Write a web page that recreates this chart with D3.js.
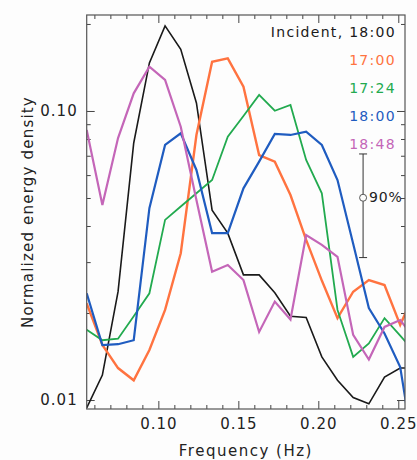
<!DOCTYPE html>
<html>
<head>
<meta charset="utf-8">
<script src="https://cdn.jsdelivr.net/npm/d3@7"></script>
<style>
  body { margin: 0; background: #fdfdfd; }
  text { font-family: "DejaVu Sans", sans-serif; }
</style>
</head>
<body>
<script>
// frequency bins (Hz)
var freqs = [0.0552, 0.0650, 0.0748, 0.0846, 0.0944, 0.1042, 0.1140, 0.1238, 0.1336, 0.1434, 0.1532,
  0.1630, 0.1728, 0.1826, 0.1924, 0.2022, 0.2120, 0.2218, 0.2316, 0.2414, 0.2512, 0.2610];

var incident = [0.0094, 0.0122, 0.0237, 0.0775, 0.1466, 0.197, 0.1635, 0.1066, 0.0454, 0.0378, 0.0271,
  0.0271, 0.0235, 0.0195, 0.0193, 0.0141, 0.0117, 0.0102, 0.0097, 0.0120, 0.0129, 0.0129];
var s1700 = [0.0216, 0.0155, 0.0129, 0.0117, 0.0149, 0.0205, 0.0322, 0.0826, 0.148, 0.152, 0.1214,
  0.0704, 0.0668, 0.0512, 0.0358, 0.0259, 0.0192, 0.0237, 0.0260, 0.0250, 0.0182, 0.0240];
var s1724 = [0.0175, 0.0161, 0.0163, 0.0195, 0.0234, 0.0420, 0.0467, 0.0519, 0.0577, 0.0815, 0.0961,
  0.1136, 0.1002, 0.1049, 0.0677, 0.0519, 0.0205, 0.0141, 0.0157, 0.0192, 0.0167, 0.0145];
var s1800 = [0.0234, 0.0155, 0.0156, 0.0161, 0.0461, 0.0763, 0.0837, 0.0625, 0.0378, 0.0378, 0.054,
  0.0668, 0.0833, 0.0826, 0.0848, 0.0763, 0.0577, 0.0347, 0.0208, 0.0170, 0.0130, 0.0060];
var s1848 = [0.0860, 0.0473, 0.0806, 0.1151, 0.1423, 0.128, 0.0882, 0.0492, 0.0278, 0.0293, 0.0260,
  0.0172, 0.0219, 0.0190, 0.0372, 0.0344, 0.0313, 0.0168, 0.0138, 0.0179, 0.0189, 0.0161];

var seriesNames = ["Incident, 18:00", "17:00", "17:24", "18:00", "18:48"];
var seriesValues = [incident, s1700, s1724, s1800, s1848];
var seriesColors = ["#1a1a1a", "#ff7340", "#22aa4f", "#1f5cc0", "#c466b8"];
var seriesWidths = [1.6, 2.4, 1.8, 2.2, 2.2];

var xMajor = [0.10, 0.15, 0.20, 0.25];
var xMinor = [0.06, 0.07, 0.08, 0.09, 0.11, 0.12, 0.13, 0.14, 0.16, 0.17, 0.18, 0.19, 0.21, 0.22, 0.23, 0.24];
var yMajor = [0.01, 0.1];
var yMinor = [0.02, 0.03, 0.04, 0.05, 0.06, 0.07, 0.08, 0.09, 0.2];

// 90% confidence bar: frequency, center, low, high
var confBar = [0.228, 0.0501, 0.0311, 0.0710];

var W = 417, H = 460;
var pL = 86.7, pT = 15, pR = 405, pB = 409;

var svg = d3.select("body").append("svg").attr("width", W).attr("height", H);

var x = d3.scaleLinear().domain([0.0552, 0.2542]).range([pL, pR]);
var y = d3.scaleLog().domain([0.00931, 0.2148]).range([pB, pT]);

svg.append("clipPath").attr("id", "clip")
  .append("rect").attr("x", pL).attr("y", pT).attr("width", pR - pL).attr("height", pB - pT);

// axes, ticks inward
function styleAxis(g) {
  g.select(".domain").remove();
  g.selectAll(".tick line").attr("stroke", "#444");
  g.selectAll("text").attr("font-size", "15px").attr("fill", "#222").style("letter-spacing", "1px");
}

svg.append("g").attr("transform", "translate(0," + pB + ")")
  .call(d3.axisBottom(x).tickValues(xMajor).tickSize(-8).tickPadding(9).tickFormat(d3.format(".2f")))
  .call(styleAxis);
svg.append("g").attr("transform", "translate(0," + pB + ")")
  .call(d3.axisBottom(x).tickValues(xMinor).tickSize(-4).tickFormat(""))
  .call(styleAxis);
svg.append("g").attr("transform", "translate(0," + pT + ")")
  .call(d3.axisTop(x).tickValues(xMajor).tickSize(-8).tickFormat(""))
  .call(styleAxis);
svg.append("g").attr("transform", "translate(0," + pT + ")")
  .call(d3.axisTop(x).tickValues(xMinor).tickSize(-4).tickFormat(""))
  .call(styleAxis);

svg.append("g").attr("transform", "translate(" + pL + ",0)")
  .call(d3.axisLeft(y).tickValues(yMajor).tickSize(-8).tickPadding(9).tickFormat(d3.format(".2f")))
  .call(styleAxis);
svg.append("g").attr("transform", "translate(" + pL + ",0)")
  .call(d3.axisLeft(y).tickValues(yMinor).tickSize(-4).tickFormat(""))
  .call(styleAxis);
svg.append("g").attr("transform", "translate(" + pR + ",0)")
  .call(d3.axisRight(y).tickValues(yMajor).tickSize(-8).tickFormat(""))
  .call(styleAxis);
svg.append("g").attr("transform", "translate(" + pR + ",0)")
  .call(d3.axisRight(y).tickValues(yMinor).tickSize(-4).tickFormat(""))
  .call(styleAxis);

// lines
var line = d3.line()
  .x(function(d, i) { return x(freqs[i]); })
  .y(function(d) { return y(d); });

svg.append("g").attr("clip-path", "url(#clip)")
  .selectAll("path").data(seriesValues)
  .enter().append("path")
  .attr("d", line)
  .attr("fill", "none")
  .attr("stroke", function(d, i) { return seriesColors[i]; })
  .attr("stroke-width", function(d, i) { return seriesWidths[i]; })
  .attr("stroke-linejoin", "miter");

// frame
svg.append("rect")
  .attr("x", pL).attr("y", pT)
  .attr("width", pR - pL).attr("height", pB - pT)
  .attr("fill", "none").attr("stroke", "#555").attr("stroke-width", 1.2);

// legend
svg.append("g").selectAll("text").data(seriesNames)
  .enter().append("text")
  .attr("x", 396)
  .attr("y", function(d, i) { return 33 + i * 28; })
  .attr("text-anchor", "end")
  .attr("dominant-baseline", "middle")
  .attr("font-size", "14px")
  .style("letter-spacing", "1.3px")
  .attr("fill", function(d, i) { return seriesColors[i]; })
  .text(function(d) { return d; });

// confidence bar
var cb = svg.append("g").attr("stroke", "#333").attr("stroke-width", 1);
cb.append("line").attr("x1", x(confBar[0])).attr("x2", x(confBar[0]))
  .attr("y1", y(confBar[3])).attr("y2", y(confBar[2]));
cb.append("line").attr("x1", x(confBar[0]) - 4).attr("x2", x(confBar[0]) + 4)
  .attr("y1", y(confBar[3])).attr("y2", y(confBar[3]));
cb.append("line").attr("x1", x(confBar[0]) - 4).attr("x2", x(confBar[0]) + 4)
  .attr("y1", y(confBar[2])).attr("y2", y(confBar[2]));
cb.append("circle").attr("cx", x(confBar[0])).attr("cy", y(confBar[1])).attr("r", 3.5)
  .attr("fill", "#fdfdfd").attr("stroke", "#555");
svg.append("text").attr("x", x(confBar[0]) + 6).attr("y", y(confBar[1]))
  .attr("dominant-baseline", "middle").attr("font-size", "14px")
  .style("letter-spacing", "0.8px").attr("fill", "#222")
  .text("90%");

// axis titles
svg.append("text").attr("x", (pL + pR) / 2).attr("y", 451)
  .attr("text-anchor", "middle").attr("dominant-baseline", "middle")
  .attr("font-size", "15px").style("letter-spacing", "1.5px").attr("fill", "#222")
  .text("Frequency (Hz)");
svg.append("text").attr("transform", "translate(28,212) rotate(-90)")
  .attr("text-anchor", "middle").attr("dominant-baseline", "middle")
  .attr("font-size", "15px").style("letter-spacing", "1.2px").attr("fill", "#222")
  .text("Normalized energy density");
</script>
</body>
</html>
